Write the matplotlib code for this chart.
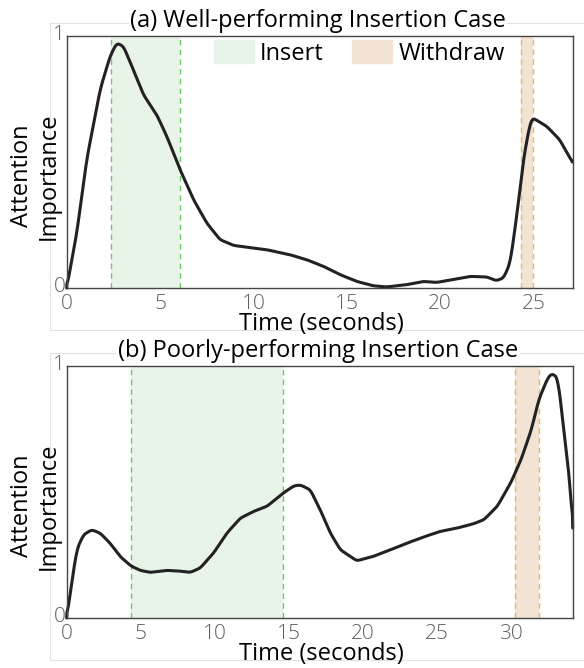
import numpy as np
import matplotlib
matplotlib.use("Agg")
import matplotlib.pyplot as plt
import matplotlib.transforms as mtransforms
from matplotlib.patches import Patch, Rectangle

plt.rcParams['font.family'] = ['Open Sans', 'DejaVu Sans']

# panel (a): well-performing case
t_a = [0, 0.54, 1.07, 1.79, 2.32, 2.68, 3.04, 3.57, 4.11, 4.82, 5.36, 6.07, 6.79, 7.5,
       8.21, 8.93, 10.7, 11.96, 12.86, 13.75, 14.64, 15.54, 16.4, 17.1, 18.2, 19.1,
       19.8, 20.9, 21.6, 22.5, 23.0, 23.4, 23.75, 24.1, 24.46, 24.82, 24.96, 25.7,
       26.4, 27.07]
v_a = [0, 0.218, 0.509, 0.787, 0.919, 0.972, 0.959, 0.866, 0.767, 0.688, 0.602, 0.470,
       0.351, 0.258, 0.192, 0.169, 0.152, 0.132, 0.112, 0.086, 0.053, 0.026, 0.009,
       0.004, 0.013, 0.026, 0.022, 0.036, 0.046, 0.044, 0.029, 0.040, 0.099, 0.284,
       0.509, 0.655, 0.675, 0.642, 0.589, 0.50]
insert_a = (2.36, 6.09)
withdraw_a = (24.34, 24.96)
ticks_a = [0, 5, 10, 15, 20, 25]

# panel (b): poorly-performing case
t_b = [0, 0.34, 0.68, 1.13, 1.69, 2.26, 2.93, 3.61, 4.33, 4.96, 5.64, 6.77, 7.67, 8.35,
       9.02, 9.93, 10.83, 11.73, 12.63, 13.53, 14.62, 15.34, 15.79, 16.46, 17.14,
       17.82, 18.49, 19.6, 20.7, 21.9, 23.0, 24.1, 25.2, 26.4, 27.5, 28.2, 29.1,
       30.0, 30.7, 31.4, 31.9, 32.5, 32.8, 33.2, 33.6, 34.0, 34.2]
v_b = [0, 0.139, 0.271, 0.330, 0.350, 0.337, 0.297, 0.244, 0.207, 0.189, 0.181, 0.189,
       0.186, 0.181, 0.198, 0.258, 0.337, 0.396, 0.423, 0.443, 0.495, 0.524, 0.528,
       0.509, 0.429, 0.337, 0.271, 0.227, 0.244, 0.271, 0.297, 0.321, 0.343, 0.357,
       0.374, 0.390, 0.443, 0.535, 0.627, 0.746, 0.865, 0.951, 0.971, 0.951, 0.746,
       0.548, 0.357]
insert_b = (4.33, 14.62)
withdraw_b = (30.33, 31.9)
ticks_b = [0, 5, 10, 15, 20, 25, 30]

titles = ["(a) Well-performing Insertion Case", "(b) Poorly-performing Insertion Case"]

W, H = 584, 668
fig = plt.figure(figsize=(W / 100, H / 100), dpi=100)

GREEN_FILL, GREEN_LINE = '#e8f4e7', '#66cc66'
PEACH_FILL, PEACH_LINE = '#f3e3d5', '#e8b860'


def smooth(t, v):
    # dense linear interpolation + short moving average
    tt = np.linspace(t[0], t[-1], 2000)
    vv = np.interp(tt, t, v)
    k = 21
    pad = np.pad(vv, k // 2, mode='edge')
    vv = np.convolve(pad, np.ones(k) / k, mode='valid')
    vv[0] = v[0]
    vv[-1] = v[-1]
    return tt, vv


def fx(px):
    return px / W


def fy(py):
    return 1 - py / H


def panel(y0, t, v, ins, wd, ticks, title, xmax, legend=False):
    # light outer frame
    fig.patches.append(Rectangle((fx(50), fy(y0 + 330)), 600 / W, 307 / H,
                                 transform=fig.transFigure, fill=False,
                                 edgecolor='#e2e2e2', lw=0.8, zorder=0))
    ax = fig.add_axes([fx(66.7), fy(y0 + 288), 506 / W, 252 / H])
    ax.axvspan(*ins, color=GREEN_FILL, lw=0)
    ax.axvspan(*wd, color=PEACH_FILL, lw=0)
    for x in ins:
        ax.axvline(x, color=GREEN_LINE, ls=(0, (4, 3)), lw=1)
    for x in wd:
        ax.axvline(x, color=PEACH_LINE, ls=(0, (4, 3)), lw=1)
    tt, vv = smooth(t, v)
    ax.plot(tt, vv, color='#222222', lw=2.2, solid_capstyle='round', clip_on=False)
    ax.set_xlim(0, xmax)
    ax.set_ylim(0, 1)
    ax.set_xticks(ticks)
    ax.set_yticks([0, 1])
    ax.tick_params(length=0, labelsize=15, colors='#606060')
    ax.tick_params(axis='x', pad=4)
    ax.tick_params(axis='y', pad=1)
    for lab in ax.get_xticklabels() + ax.get_yticklabels():
        lab.set_fontweight('light')
    shift = mtransforms.ScaledTranslation(0, 4 / 100, fig.dpi_scale_trans)
    for lab in ax.get_yticklabels():
        lab.set_transform(lab.get_transform() + shift)
    for s in ax.spines.values():
        s.set_color('#444444')
        s.set_linewidth(1.0)

    fig.text(fx(318), fy(y0 + 21), title, fontsize=17, ha='center', va='center',
             bbox=dict(facecolor='white', edgecolor='none', pad=1))
    fig.text(fx(321), fy(y0 + 324), 'Time (seconds)', fontsize=17,
             ha='center', va='center')
    fig.text(fx(35), fy(y0 + 176), 'Attention\nImportance', fontsize=17,
             ha='center', va='center', rotation=90, linespacing=1.15)

    if legend:
        h = [Patch(color=GREEN_FILL, label='Insert'), Patch(color=PEACH_FILL, label='Withdraw')]
        fig.legend(handles=h, loc='upper left', bbox_to_anchor=(fx(214), fy(40)),
                   ncol=2, frameon=False, fontsize=17, handlelength=1.7,
                   handleheight=1.15, columnspacing=1.2, handletextpad=0.25,
                   borderpad=0, borderaxespad=0)
    return ax


panel(0, t_a, v_a, insert_a, withdraw_a, ticks_a, titles[0], 27.1, legend=True)
panel(330, t_b, v_b, insert_b, withdraw_b, ticks_b, titles[1], 34.2)

fig.savefig('out.png', dpi=100)
